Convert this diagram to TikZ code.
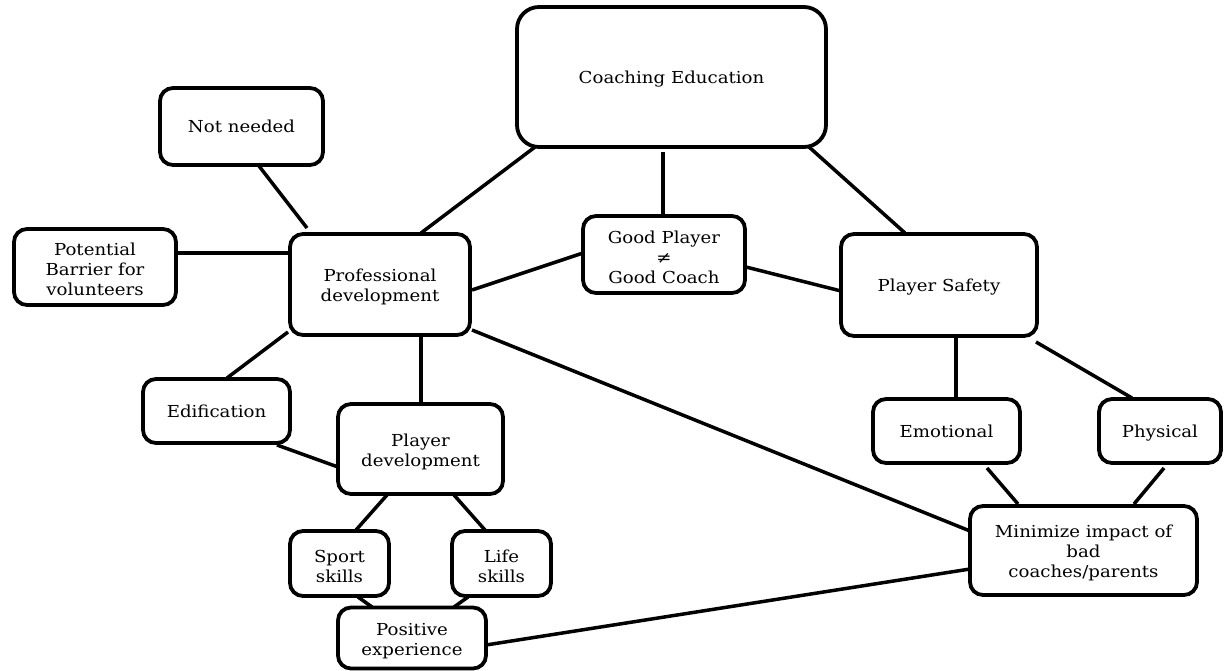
\documentclass[tikz,border=0pt]{standalone}
\usepackage{fontspec}
\setmainfont{DejaVu Serif}[FakeStretch=1.1]
\usetikzlibrary{backgrounds}
\newcommand\firstup{\rule{0pt}{17.5pt}}
\tikzset{
  box/.style={draw=black, fill=white, line width=3.8pt, rounded corners=13pt,
    inner sep=0pt, align=center, font=\fontsize{16.5}{20}\selectfont},
  one/.style={text height=12pt, text depth=0pt},
  conn/.style={draw=black, line width=3.5pt}
}
\begin{document}
\begin{tikzpicture}[x=1pt,y=-1pt]
\useasboundingbox (0,0) rectangle (1224,670);
\node[box, one, rounded corners=22pt, minimum width=309pt, minimum height=140pt] (ce) at (671.5,77) {Coaching Education};
\node[box, one, minimum width=163pt, minimum height=77pt] (nn) at (241.5,126.5) {Not needed};
\node[box, minimum width=162pt, minimum height=76pt] (pb) at (95,267) {\firstup Potential\\Barrier for\\volunteers};
\node[box, minimum width=180pt, minimum height=101pt] (pd) at (380,284.5) {\firstup Professional\\development};
\node[box, minimum width=162pt, minimum height=77pt] (gp) at (664,254.5) {\firstup Good Player\\≠\\Good Coach};
\node[box, one, minimum width=196pt, minimum height=102pt] (ps) at (939,285) {Player Safety};
\node[box, one, minimum width=147pt, minimum height=64pt] (ed) at (216.5,411) {Edification};
\node[box, minimum width=165pt, minimum height=90pt] (pl) at (420.5,449) {\firstup Player\\development};
\node[box, minimum width=99pt, minimum height=65pt] (ss) at (339.5,563.5) {\firstup Sport\\skills};
\node[box, minimum width=99pt, minimum height=65pt] (ls) at (501.5,563.5) {\firstup Life\\skills};
\node[box, minimum width=148pt, minimum height=61pt] (pe) at (412,638) {\firstup Positive\\experience};
\node[box, one, minimum width=147pt, minimum height=64pt] (em) at (946.5,431) {Emotional};
\node[box, one, minimum width=122pt, minimum height=64pt] (ph) at (1160,431) {Physical};
\node[box, minimum width=227pt, minimum height=89pt] (mi) at (1083.5,550.5) {\firstup Minimize impact of\\bad\\coaches/parents};
\begin{scope}[on background layer]
\draw[conn] ([shift={(-136.5,70)}]ce.center) -- ([shift={(41,-51.5)}]pd.center);
\draw[conn] ([shift={(-8.5,75)}]ce.center) -- ([shift={(-1,-38.5)}]gp.center);
\draw[conn] ([shift={(137.5,70)}]ce.center) -- ([shift={(-34,-52)}]ps.center);
\draw[conn] ([shift={(17.5,39.5)}]nn.center) -- ([shift={(-73,-56.5)}]pd.center);
\draw[conn] ([shift={(81,-14)}]pb.center) -- ([shift={(-90,-31.5)}]pd.center);
\draw[conn] ([shift={(92,5.5)}]pd.center) -- ([shift={(-81,-1.5)}]gp.center);
\draw[conn] ([shift={(82,12.5)}]gp.center) -- ([shift={(-98,6)}]ps.center);
\draw[conn] ([shift={(17,52)}]ps.center) -- ([shift={(9.5,-32)}]em.center);
\draw[conn] ([shift={(97,57)}]ps.center) -- ([shift={(-28,-33)}]ph.center);
\draw[conn] ([shift={(40.5,37)}]em.center) -- ([shift={(-65.5,-46.5)}]mi.center);
\draw[conn] ([shift={(4,37)}]ph.center) -- ([shift={(50.5,-46.5)}]mi.center);
\draw[conn] ([shift={(92,45.5)}]pd.center) -- ([shift={(-113.5,-19.5)}]mi.center);
\draw[conn] ([shift={(74,7)}]pe.center) -- ([shift={(-113.5,18.5)}]mi.center);
\draw[conn] ([shift={(-92,47.5)}]pd.center) -- ([shift={(10.5,-33)}]ed.center);
\draw[conn] ([shift={(41,50.5)}]pd.center) -- ([shift={(0.5,-45)}]pl.center);
\draw[conn] ([shift={(60.5,34)}]ed.center) -- ([shift={(-82.5,18)}]pl.center);
\draw[conn] ([shift={(-33.5,46)}]pl.center) -- ([shift={(16.5,-33.5)}]ss.center);
\draw[conn] ([shift={(33.5,46)}]pl.center) -- ([shift={(-16.5,-33.5)}]ls.center);
\draw[conn] ([shift={(18.5,33.5)}]ss.center) -- ([shift={(-40,-31)}]pe.center);
\draw[conn] ([shift={(-33.5,33.5)}]ls.center) -- ([shift={(42,-31)}]pe.center);
\end{scope}
\end{tikzpicture}
\end{document}
